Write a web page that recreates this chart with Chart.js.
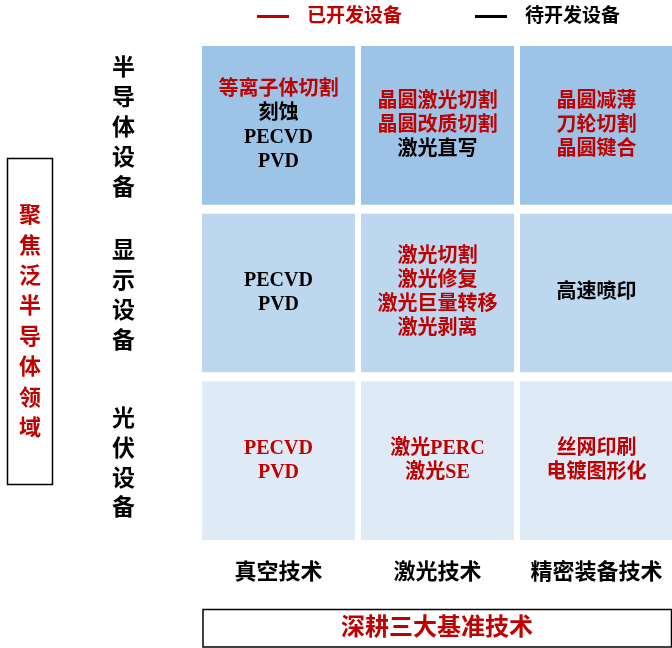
<!DOCTYPE html>
<html>
<head>
<meta charset="utf-8">
<script src="https://cdn.jsdelivr.net/npm/chart.js"></script>
<style>
  html, body { margin: 0; background: #fff; overflow: hidden; }
  #wrap { width: 676px; height: 648px; position: relative; }
</style>
</head>
<body>
<div id="wrap"><canvas id="matrixChart"></canvas></div>
<script>
// columns (x) and rows (stacked, bottom to top)
const techs = ["真空技术", "激光技术", "精密装备技术"];
const fields = ["光伏设备", "显示设备", "半导体设备"];
const cellValues = [1, 1, 1];
const rowColors = ["#DEEBF7", "#BDD7EE", "#9DC3E6"];

// cell contents per row, per column: [text, developed(1) / to develop(0)]
const pvItems = [
  [["PECVD", 1], ["PVD", 1]],
  [["激光PERC", 1], ["激光SE", 1]],
  [["丝网印刷", 1], ["电镀图形化", 1]]
];
const displayItems = [
  [["PECVD", 0], ["PVD", 0]],
  [["激光切割", 1], ["激光修复", 1], ["激光巨量转移", 1], ["激光剥离", 1]],
  [["高速喷印", 0]]
];
const semiItems = [
  [["等离子体切割", 1], ["刻蚀", 0], ["PECVD", 0], ["PVD", 0]],
  [["晶圆激光切割", 1], ["晶圆改质切割", 1], ["激光直写", 0]],
  [["晶圆减薄", 1], ["刀轮切割", 1], ["晶圆键合", 1]]
];
const cellItems = [pvItems, displayItems, semiItems];

const legendLabels = ["已开发设备", "待开发设备"];
const sideTitle = "聚焦泛半导体领域";
const bottomTitle = "深耕三大基准技术";

const RED = "#C00000";
const FONT = '"Liberation Serif", "Noto Sans CJK SC", serif';

const matrixText = {
  id: "matrixText",
  afterDatasetsDraw(chart) {
    const ctx = chart.ctx;
    ctx.save();
    ctx.textAlign = "center";
    ctx.textBaseline = "middle";
    ctx.font = "bold 20px " + FONT;
    chart.data.datasets.forEach((ds, i) => {
      const meta = chart.getDatasetMeta(i);
      meta.data.forEach((bar, j) => {
        const lines = cellItems[i][j];
        const cy = (bar.y + bar.base) / 2;
        const lh = 24;
        const y0 = cy - (lines.length - 1) * lh / 2;
        lines.forEach((ln, k) => {
          ctx.fillStyle = ln[1] ? RED : "#000";
          ctx.fillText(ln[0], bar.x, y0 + k * lh);
        });
      });
    });
    ctx.restore();
  },
  afterDraw(chart) {
    const ctx = chart.ctx;
    ctx.save();
    // legend
    ctx.textAlign = "left";
    ctx.textBaseline = "middle";
    ctx.font = "bold 19px " + FONT;
    const legendX = [257, 475];
    legendLabels.forEach((t, i) => {
      const c = i === 0 ? RED : "#000";
      ctx.fillStyle = c;
      ctx.fillRect(legendX[i], 15, 32, 3);
      ctx.fillText(t, legendX[i] + 50, 17);
    });

    // left box
    ctx.strokeStyle = "#000";
    ctx.lineWidth = 1.5;
    ctx.strokeRect(7.5, 158.5, 45, 326);
    ctx.fillStyle = RED;
    ctx.textAlign = "center";
    ctx.font = "bold 22px " + FONT;
    const chars = sideTitle.split("");
    chars.forEach((ch, k) => {
      ctx.fillText(ch, 30, 323 + (k - (chars.length - 1) / 2) * 30.4);
    });

    // bottom box
    ctx.strokeRect(203, 609.5, 468.5, 37.5);
    ctx.font = "bold 24px " + FONT;
    ctx.fillText(bottomTitle, 437, 629);
    ctx.restore();
  }
};

const datasets = fields.map((f, i) => ({
  label: f,
  data: cellValues,
  backgroundColor: rowColors[i],
  borderColor: "#ffffff",
  borderWidth: { top: 4.5, bottom: 4.5, left: 0, right: 0 },
  borderSkipped: false,
  barPercentage: 1,
  categoryPercentage: 0.9623
}));

new Chart("matrixChart", {
  type: "bar",
  data: { labels: techs, datasets: datasets },
  plugins: [matrixText],
  options: {
    responsive: true,
    maintainAspectRatio: false,
    animation: false,
    layout: { padding: { top: 41.5, right: 0, bottom: 0, left: 0 } },
    plugins: {
      legend: { display: false },
      tooltip: { enabled: false }
    },
    scales: {
      x: {
        stacked: true,
        grid: { display: false, drawTicks: false },
        border: { display: false },
        ticks: {
          color: "#000",
          padding: 16,
          font: { family: FONT, size: 22, weight: "bold" }
        },
        afterFit: s => { s.height = 103.5; s.paddingLeft = 0; s.paddingRight = 0; }
      },
      y: {
        stacked: true,
        min: 0,
        max: 3,
        grid: { display: false, drawTicks: false },
        border: { display: false },
        afterBuildTicks: s => { s.ticks = [0.476, 1.476, 2.476].map(v => ({ value: v })); },
        ticks: {
          autoSkip: false,
          color: "#000",
          padding: 64,
          font: { family: FONT, size: 23, weight: "bold", lineHeight: 1.3 },
          callback: (v, idx) => fields[idx].split("")
        },
        afterFit: s => { s.width = 199; s.paddingTop = 0; s.paddingBottom = 0; }
      }
    }
  }
});
</script>
</body>
</html>
